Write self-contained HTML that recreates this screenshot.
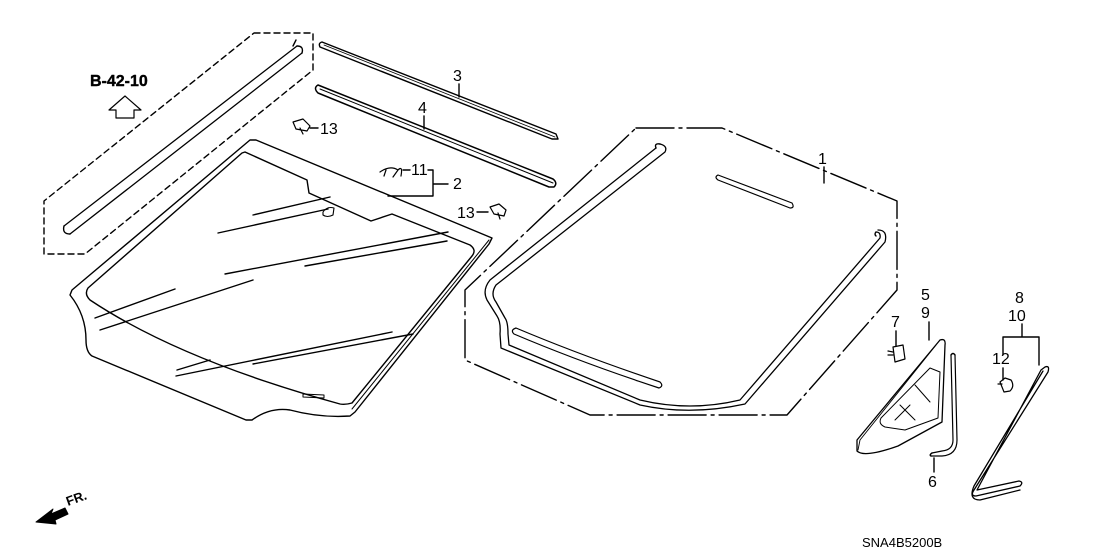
<!DOCTYPE html>
<html><head><meta charset="utf-8"><style>
html,body{margin:0;padding:0;background:#fff}
svg{display:block}
text{font-family:"Liberation Sans",sans-serif;font-size:16px;fill:#000;stroke:none}
</style></head><body>
<svg width="1108" height="553" viewBox="0 0 1108 553" xmlns="http://www.w3.org/2000/svg" fill="none" stroke="#000" stroke-width="1.4" stroke-linejoin="round" stroke-linecap="round">
<path d="M254 33 L313 33 L313 70 L85 254 L44 254 L44 201 Z" stroke-dasharray="6,4"/>
<path d="M297 46 L64 226 M302 53 L70 234" stroke-width="1.3"/>
<path d="M64 226 Q62 234 70 234 M297 46 Q304 46 302 53"/>
<path d="M293 46 L296 40"/>
<text x="90" y="86" style="font-weight:bold;font-size:16px;stroke:#000;stroke-width:0.4">B-42-10</text>
<path d="M109 110 L125 96 L141 110 L134 110 L134 118 L116 118 L116 110 Z" stroke-width="1.2"/>
<path d="M322 42 L556 134 L558 139 L552 139 L320 47 Q318 43 322 42 Z"/>
<path d="M324 45 L555 137" stroke-width="0.8"/>
<text x="453" y="81">3</text><path d="M459 84 L459 97"/>
<path d="M318 85 L553 179 Q558 183 554 187 L549 187 L318 93 Q313 88 318 85 Z" stroke-width="1.5"/>
<path d="M320 89 L553 183" stroke-width="1"/>
<text x="418" y="113">4</text><path d="M424 116 L424 129"/>
<path d="M293 122 L303 119 L310 126 L307 131 L296 129 Z M300 128 L303 134" stroke-width="1.2"/>
<path d="M310 128 L318 128"/><text x="320" y="134">13</text>
<path d="M490 207 L499 204 L506 210 L504 216 L494 214 Z M498 213 L500 219" stroke-width="1.2"/>
<text x="457" y="218">13</text><path d="M477 212 L488 212"/>
<path d="M380 172 Q390 165 398 170 L393 177 M398 170 Q403 165 401 176 M386 170 L384 176" stroke-width="1.2"/>
<path d="M403 170 L410 170"/><text x="411" y="175">11</text>
<path d="M428 170 L433 170 L433 196 L388 196 M433 184 L448 184"/>
<text x="453" y="189">2</text>
<path d="M250 140 L256 140 L492 238 L489 244 L355 412 L350 416 Q320 418 290 410 Q270 407 252 420 L246 420 L92 356 Q86 352 86 340 Q86 315 70 295 L72 290 Z"/>
<path d="M489 240 L352 409" stroke-width="1"/>
<path d="M245 152 L307 180 L309 193 L371 221 L392 214 L470 245 Q477 250 472 256 L352 403 Q345 405 340 404 Q180 360 90 300 Q84 294 88 288 L242 153 Z"/>
<path d="M253 215 L330 197 M218 233 L328 209 M225 274 L448 232 M305 266 L447 241 M95 318 L175 289 M100 330 L253 280 M176 376 L392 332 M253 364 L413 334 M177 370 L210 360"/>
<path d="M323 212 Q327 206 334 208 L333 215 Q327 218 323 215 Z" stroke-width="1.1"/>
<path d="M303 394 L324 395 L324 398 L303 397 Z" stroke-width="1"/>
<path d="M636 128 L722 128 L897 201 L897 290 L787 415 L590 415 L465 360 L465 290 Z" stroke-dasharray="38,5,3,5"/>
<text x="818" y="164">1</text><path d="M824 167 L824 183"/>
<path d="M660 144 Q668 146 665 152 L496 285 Q490 294 496 302 L505 318 Q508 322 508 334 L509 345 L640 400 Q690 412 740 400 L880 238 Q881 232 876 232 M656 148 L490 280 Q482 290 487 300 L497 316 Q501 322 500 334 L501 348 L640 405 Q690 416 745 404 L885 242 Q888 230 878 230" stroke-width="1.3"/>
<path d="M660 144 Q654 143 656 148 M876 232 Q874 234 876 236"/>
<path d="M718 175 L792 203 Q795 208 790 208 L718 180 Q714 177 718 175 Z" stroke-width="1.2"/>
<path d="M516 328 Q580 355 660 382 Q664 386 659 388 Q580 362 514 334 Q510 330 516 328 Z" stroke-width="1.2"/>
<text x="891" y="327">7</text><path d="M896 331 L896 346"/>
<path d="M893 347 L903 345 L905 359 L895 362 Z M888 351 L893 352 M888 355 L893 355" stroke-width="1.2"/>
<text x="921" y="300">5</text><text x="921" y="318">9</text><path d="M929 322 L929 340"/>
<path d="M940 340 Q946 338 945 345 L942 422 L898 446 Q864 458 857 451 L857 440 Z" stroke-width="1.3"/>
<path d="M936 345 L860 440 L858 450" stroke-width="0.9"/>
<path d="M930 368 L940 372 L938 418 L905 430 L885 427 Q878 424 881 418 Z M915 385 L930 402 M900 405 L915 420 M895 420 L910 405" stroke-width="1"/>
<path d="M951 355 L953 440 Q953 450 942 451 L932 453 M955 355 L957 440 Q957 455 942 456 L931 456" stroke-width="1.2"/>
<path d="M951 355 Q953 352 955 355 M932 453 Q929 455 931 456"/>
<text x="928" y="487">6</text><path d="M934 458 L934 472"/>
<text x="1015" y="303">8</text><text x="1008" y="321">10</text>
<path d="M1022 324 L1022 337 M1003 337 L1039 337 M1003 337 L1003 354 M1039 337 L1039 365"/>
<text x="992" y="364">12</text><path d="M1003 368 L1003 380"/>
<path d="M1000 382 L1005 378 L1011 380 Q1015 386 1010 391 L1004 392 Z M998 384 L1002 384" stroke-width="1.2"/>
<path d="M1045 367 Q1050 365 1048 372 L974 490 Q970 496 976 496 L1020 486 Q1024 482 1019 481 L977 490 L1041 370 Z M1043 371 L974 486 Q968 500 980 500 L1020 490" stroke-width="1.3"/>
<path d="M36 522 L53 509 L51 514 L65 508 L68 514 L55 520 L56 524 Z" fill="#000" stroke-width="1"/>
<text x="68" y="506" style="font-weight:bold;font-size:13px" transform="rotate(-20 68 506)">FR.</text>
<text x="862" y="547" style="font-size:13px">SNA4B5200B</text>
</svg>
</body></html>
